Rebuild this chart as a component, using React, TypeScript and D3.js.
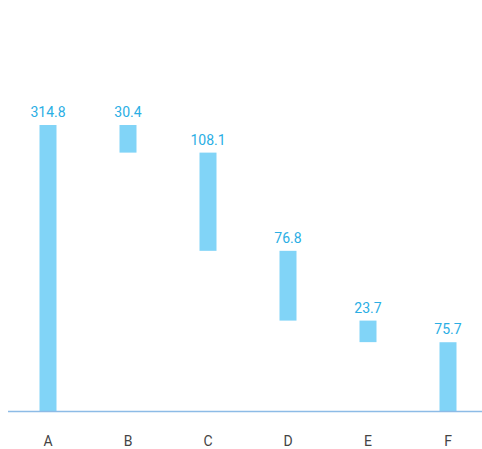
import React, { useEffect, useRef } from 'react';
import * as d3 from 'd3';

// waterfall data
const categories = ['A', 'B', 'C', 'D', 'E', 'F'];
const values = [314.8, -30.4, -108.1, -76.8, -23.7, 75.7];
const isTotal = [true, false, false, false, false, true];

const App = () => {
  const svgRef = useRef<SVGSVGElement>(null);

  useEffect(() => {
    if (!svgRef.current) return;
    const width = 482;
    const svg = d3.select(svgRef.current);
    svg.selectAll('*').remove();

    // compute start/end for each step
    let running = 0;
    const steps = categories.map((c, i) => {
      let start, end;
      if (isTotal[i]) {
        start = 0;
        end = values[i];
        running = values[i];
      } else {
        start = running;
        end = running + values[i];
        running = end;
      }
      return { cat: c, start, end, value: Math.abs(values[i]) };
    });

    const x = d3.scaleBand()
      .domain(categories)
      .range([8, 488])
      .paddingInner(0.7875)
      .paddingOuter(0.39375);

    const y = d3.scaleLinear()
      .domain([0, 314.8])
      .range([411, 125]);

    svg.append('g')
      .selectAll('rect')
      .data(steps)
      .enter().append('rect')
        .attr('x', d => x(d.cat) || 0)
        .attr('y', d => y(Math.max(d.start, d.end)))
        .attr('width', x.bandwidth())
        .attr('height', d => Math.abs(y(d.start) - y(d.end)))
        .attr('fill', '#81d4f7');

    svg.append('g')
      .selectAll('text')
      .data(steps)
      .enter().append('text')
        .attr('x', d => (x(d.cat) || 0) + x.bandwidth() / 2)
        .attr('y', d => y(Math.max(d.start, d.end)) - 8)
        .attr('text-anchor', 'middle')
        .attr('font-family', 'Roboto, sans-serif')
        .attr('font-size', 14)
        .attr('fill', '#2aaee4')
        .text(d => d.value.toFixed(1));

    // baseline
    svg.append('line')
      .attr('x1', 8)
      .attr('x2', width)
      .attr('y1', y(0) + 0.5)
      .attr('y2', y(0) + 0.5)
      .attr('stroke', '#8dbbe6')
      .attr('stroke-width', 1.5);

    svg.append('g')
      .selectAll('text')
      .data(categories)
      .enter().append('text')
        .attr('x', d => (x(d) || 0) + x.bandwidth() / 2)
        .attr('y', 446)
        .attr('text-anchor', 'middle')
        .attr('font-family', 'Roboto, sans-serif')
        .attr('font-size', 14)
        .attr('fill', '#444')
        .text(d => d);
  }, []);

  return (
    <svg ref={svgRef} width={482} height={449}
      style={{ position: 'absolute', left: 0, top: 0, background: '#fff' }} />
  );
};

export default App;
